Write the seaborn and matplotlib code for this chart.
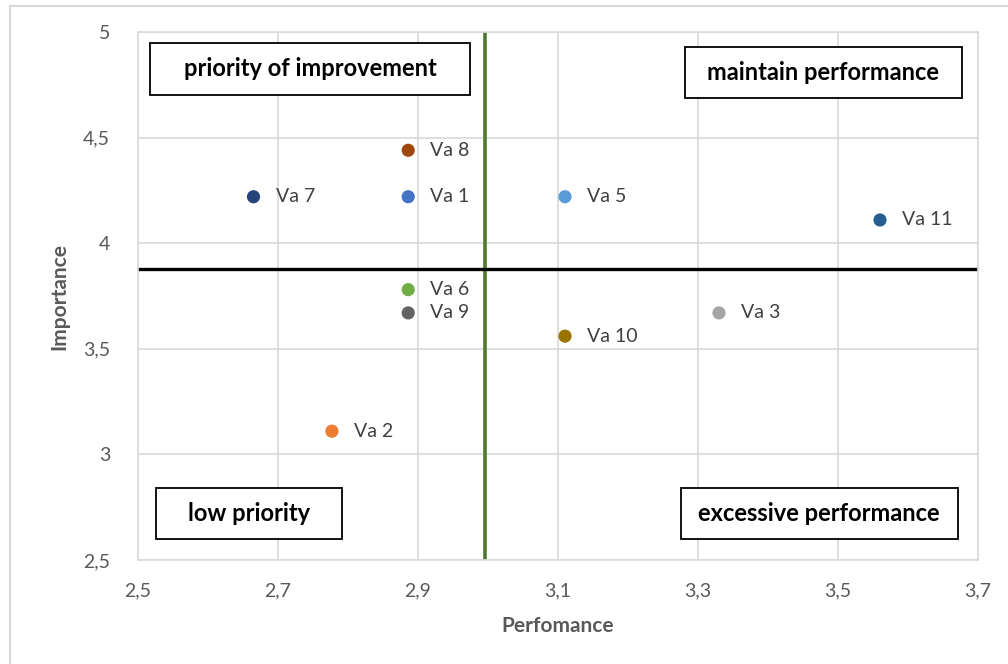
import matplotlib
matplotlib.use("Agg")
import matplotlib.pyplot as plt
from matplotlib.patches import Rectangle
from matplotlib.ticker import FuncFormatter
import seaborn as sns
import pandas as pd

# Attribute scores
labels = ["Va 1", "Va 2", "Va 3", "Va 5", "Va 6", "Va 7", "Va 8", "Va 9", "Va 10", "Va 11"]
performance = [2.886, 2.777, 3.33, 3.11, 2.886, 2.665, 2.886, 2.886, 3.11, 3.56]
importance = [4.22, 3.11, 3.67, 4.22, 3.78, 4.22, 4.44, 3.67, 3.56, 4.11]
colors = ["#4472C4", "#ED7D31", "#A5A5A5", "#5B9BD5", "#70AD47",
          "#264478", "#9E480E", "#636363", "#997300", "#255E91"]

# Quadrant dividers (means)
perf_split = 2.996
imp_split = 3.88

x_ticks = [2.5, 2.7, 2.9, 3.1, 3.3, 3.5, 3.7]
y_ticks = [2.5, 3.0, 3.5, 4.0, 4.5, 5.0]

quadrants = ["priority of improvement", "maintain performance", "low priority", "excessive performance"]

df = pd.DataFrame({"label": labels, "Perfomance": performance, "Importance": importance})

sns.set_theme(style="whitegrid")
plt.rcParams["font.family"] = ["Lato", "DejaVu Sans"]

fig = plt.figure(figsize=(10.08, 6.64), dpi=100)
ax = fig.add_axes([138 / 1008, 1 - 560 / 664, 840 / 1008, 528 / 664])

# outer chart frame
fig.add_artist(plt.Line2D([10 / 1008, 10 / 1008], [0, 1 - 6 / 664], transform=fig.transFigure,
                          color="#D9D9D9", lw=1.5))
fig.add_artist(plt.Line2D([10 / 1008, 1], [1 - 6 / 664, 1 - 6 / 664], transform=fig.transFigure,
                          color="#D9D9D9", lw=1.5))

ax.set_xlim(2.5, 3.7)
ax.set_ylim(2.5, 5.0)
ax.set_xticks(x_ticks)
ax.set_yticks(y_ticks)
comma = FuncFormatter(lambda v, p: (f"{v:g}").replace(".", ","))
ax.xaxis.set_major_formatter(comma)
ax.yaxis.set_major_formatter(comma)
ax.grid(True, color="#D9D9D9", lw=1.2)
for s in ax.spines.values():
    s.set_color("#D9D9D9")
    s.set_linewidth(1.2)
ax.tick_params(axis="both", colors="#595959", labelsize=14, length=0)
ax.tick_params(axis="x", pad=16)
ax.tick_params(axis="y", pad=20)

ax.axvline(perf_split, color="#4E7A2E", lw=2.6, zorder=2)
ax.axhline(imp_split, color="black", lw=2.4, zorder=2)

sns.scatterplot(data=df, x="Perfomance", y="Importance", hue="label",
                palette=colors, s=90, edgecolor="none", legend=False, ax=ax, zorder=3)

for lab, xv, yv in zip(labels, performance, importance):
    ax.annotate(lab, (xv, yv), xytext=(16, 0), textcoords="offset points",
                va="center", ha="left", fontsize=14, color="#404040")

ax.set_xlabel("Perfomance", fontsize=15, fontweight="bold", color="#595959", labelpad=12)
ax.set_ylabel("Importance", fontsize=15, fontweight="bold", color="#595959", labelpad=10)

boxes = [
    (0.0143, 0.881, 0.381, 0.098),
    (0.651, 0.875, 0.330, 0.097),
    (0.0214, 0.040, 0.222, 0.096),
    (0.646, 0.040, 0.330, 0.096),
]
for text, (bx, by, bw, bh) in zip(quadrants, boxes):
    ax.add_patch(Rectangle((bx, by), bw, bh, transform=ax.transAxes, facecolor="white",
                           edgecolor="black", lw=1.3, zorder=4))
    ax.text(bx + bw / 2, by + bh / 2, text, transform=ax.transAxes, ha="center", va="center",
            fontsize=17, fontweight="bold", color="black", zorder=5)

fig.savefig("out.png", dpi=100)
